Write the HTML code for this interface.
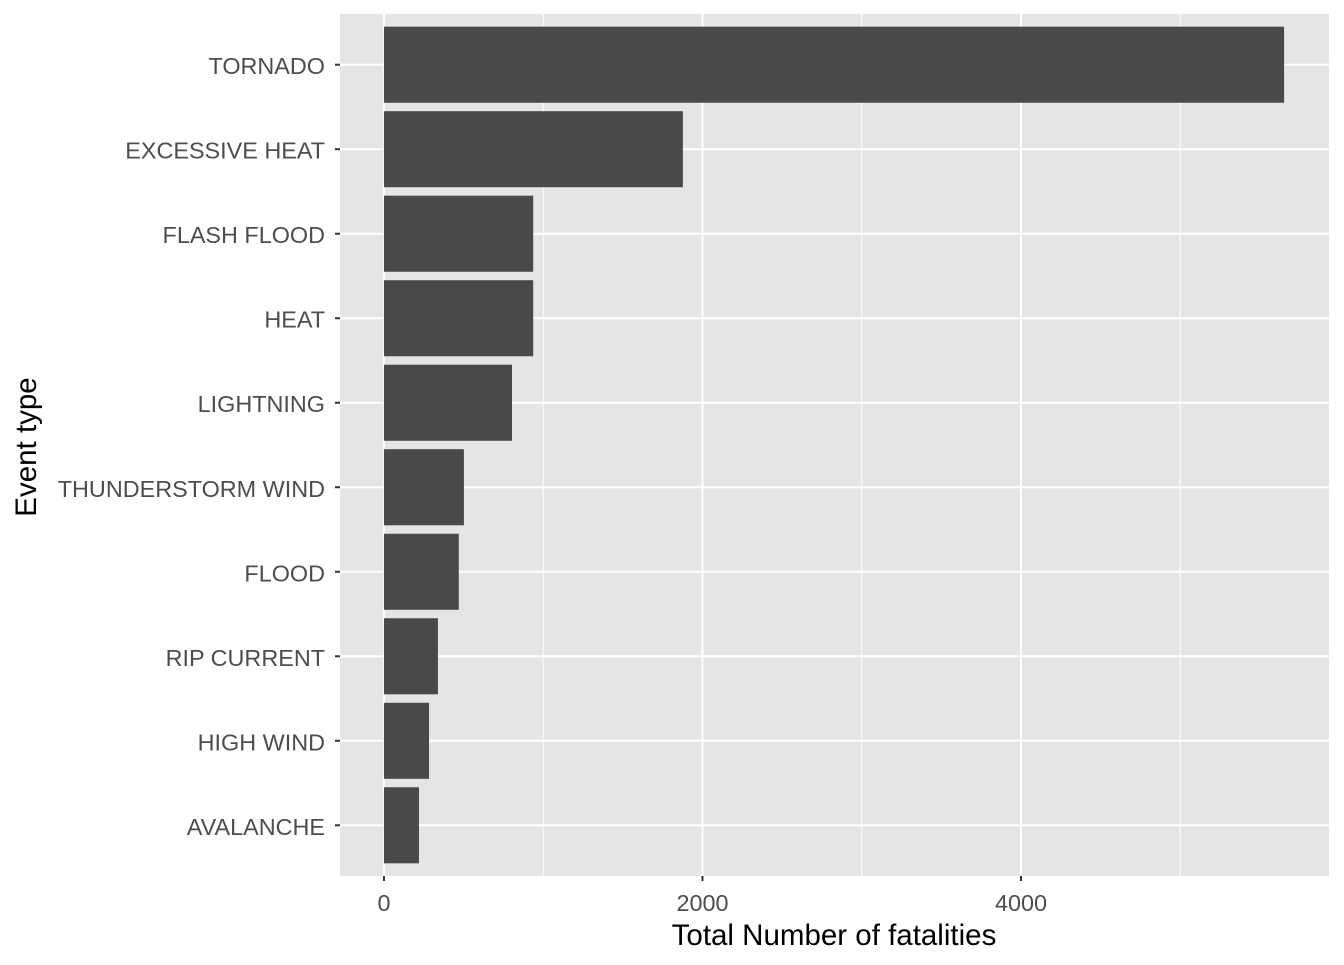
<!DOCTYPE html>
<html><head><meta charset="utf-8"><style>
body{margin:0;background:#fff;}
svg text{font-family:"Liberation Sans",Arial,sans-serif;}
</style></head><body>
<svg id="chart" width="1344" height="960" xmlns="http://www.w3.org/2000/svg">
<rect x="340" y="14" width="989" height="862" fill="#e5e5e5"/>
<g id="grid"></g><g id="bars"></g><g id="yaxis"></g><g id="xaxis"></g>
<text x="834" y="945" style="font-size:29.5px" text-anchor="middle" fill="#000">Total Number of fatalities</text>
<text transform="translate(36,447) rotate(-90)" style="font-size:29.5px" text-anchor="middle" fill="#000">Event type</text>
</svg>
<script>
const categories=["TORNADO","EXCESSIVE HEAT","FLASH FLOOD","HEAT","LIGHTNING","THUNDERSTORM WIND","FLOOD","RIP CURRENT","HIGH WIND","AVALANCHE"];
const values=[5652,1877,937,937,804,502,470,339,283,220];
const xTicks=[0,2000,4000];
const xMinor=[1000,3000,5000];
const NS="http://www.w3.org/2000/svg";
const px0=340,px1=1329,py0=14,py1=876,xmin=-276,xmax=5934;
const x=v=>px0+(v-xmin)/(xmax-xmin)*(px1-px0);
const step=(py1-py0)/(categories.length-1+1.2);
const y=i=>py0+(0.6+i)*step;
function mk(t,a,p){const e=document.createElementNS(NS,t);for(const k in a)e.setAttribute(k,a[k]);p.appendChild(e);return e;}
const g=document.getElementById('grid'),b=document.getElementById('bars'),ya=document.getElementById('yaxis'),xa=document.getElementById('xaxis');
xMinor.forEach(v=>{const l=mk('line',{x1:x(v),x2:x(v),y1:py0,y2:py1,stroke:'#fff','stroke-width':1},g);

});
xTicks.forEach(v=>{const l=mk('line',{x1:x(v),x2:x(v),y1:py0,y2:py1,stroke:'#fff','stroke-width':2},g);


const t=mk('line',{x1:x(v),x2:x(v),y1:py1,y2:py1+5,stroke:'#333','stroke-width':2},xa);


const tx=mk('text',{x:x(v),y:py1+35,style:'font-size:23.4px','text-anchor':'middle',fill:'#4d4d4d'},xa);tx.textContent=v;

});
categories.forEach((c,i)=>{const l=mk('line',{x1:px0,x2:px1,y1:y(i),y2:y(i),stroke:'#fff','stroke-width':2},g);


const h=step*0.9;
const r=mk('rect',{x:x(0),y:y(i)-h/2,width:x(values[i])-x(0),height:h,fill:'#494949'},b);


const t=mk('line',{x1:px0-5,x2:px0,y1:y(i),y2:y(i),stroke:'#333','stroke-width':2},ya);


const tx=mk('text',{x:px0-15,y:y(i)+9.5,style:'font-size:23.4px','text-anchor':'end',fill:'#4d4d4d'},ya);tx.textContent=c;

});
</script>
</body></html>
